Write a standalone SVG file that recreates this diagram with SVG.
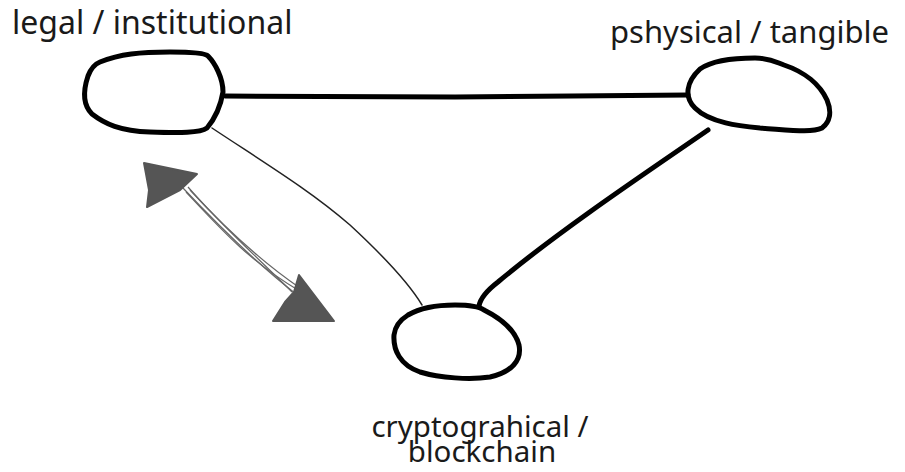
<svg xmlns="http://www.w3.org/2000/svg" width="905" height="472" viewBox="0 0 905 472">
<style>
  .lbl { font-family: "Noto Sans", "Open Sans", sans-serif; fill: #1a1a1a; }
  .node { fill: none; stroke: #000; stroke-width: 5; stroke-linejoin: round; stroke-linecap: round; }
  .thick { fill: none; stroke: #000; stroke-width: 5; stroke-linecap: round; }
  .thin { fill: none; stroke: #222; stroke-width: 1.5; stroke-linecap: round; }
  .arrow-shaft { fill: none; stroke: #666; stroke-width: 1.2; }
  .head { fill: #555; stroke: #555; stroke-width: 2; stroke-linejoin: round; }
</style>
<rect width="905" height="472" fill="#fff"/>
<g id="connectors">
  <path class="thick" d="M225 96 L455 97 L572 96 L688 95"/>
  <path class="thick" d="M708 130 C650 170 560 230 498 282 C485 292 480 300 479 306"/>
  <path class="thin" d="M212 128 C260 160 310 190 350 225 C390 262 410 285 422 305"/>
  <g id="double-arrow">
    <path class="arrow-shaft" d="M183 188 C215 222 255 262 296 294"/>
    <path class="arrow-shaft" d="M188 187 C220 224 258 258 292 292"/>
    <path class="arrow-shaft" d="M186 192 C218 226 250 262 298 290"/>
    <path class="arrow-shaft" d="M190 190 C225 228 262 262 300 288"/>
    <polygon class="head" points="144,163 197,174 180,190 147,207 149,190"/>
    <polygon class="head" points="299,275 334,321 273,321 285,302 294,292"/>
  </g>
</g>
<g id="node-legal">
  <path class="node" d="M100 62 C120 54 140 52 170 52 C190 52 205 53 208 56 C215 63 223 78 223 92 C221 104 217 116 207 128 C200 133 180 133 150 132 C120 131 105 124 92 114 C82 104 84 88 88 76 C91 68 95 64 100 62 Z"/>
</g>
<g id="node-physical">
  <path class="node" d="M700 69 C710 62 725 58 755 58 C770 58 776 62 784 65 C805 72 820 85 827 100 C832 112 830 122 822 128 C812 133 790 130 760 128 C740 126 710 123 695 108 C684 97 686 82 700 69 Z"/>
</g>
<g id="node-crypto">
  <path class="node" d="M408 315 C420 308 435 305 455 305 C470 305 480 307 484 310 C500 318 515 330 519 345 C522 360 512 372 490 377 C470 380 440 378 420 372 C400 365 393 350 394 335 C395 326 400 320 408 315 Z"/>
</g>
<g id="labels">
  <text class="lbl" x="12" y="34" font-size="32">legal / institutional</text>
  <text class="lbl" x="610" y="43" font-size="31">pshysical / tangible</text>
  <text class="lbl" font-size="29.5" text-anchor="middle"><tspan x="480" y="437">cryptograhical /</tspan><tspan x="482" y="462">blockchain</tspan></text>
</g>
</svg>
